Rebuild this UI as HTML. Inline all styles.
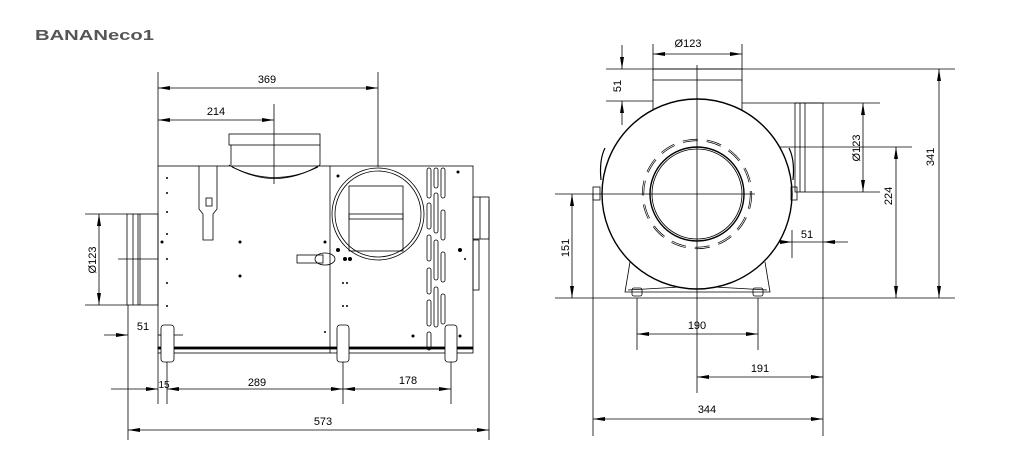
<!DOCTYPE html>
<html><head><meta charset="utf-8"><style>
html,body{margin:0;padding:0;background:#fff;}
svg{display:block;font-family:"Liberation Sans","DejaVu Sans",sans-serif;}
</style></head><body>
<svg width="1014" height="461" viewBox="0 0 1014 461" xmlns="http://www.w3.org/2000/svg">
<defs>
<marker id="a" viewBox="0 0 12 4" refX="12" refY="2" markerWidth="12" markerHeight="4" markerUnits="userSpaceOnUse" orient="auto-start-reverse"><path d="M0,0 L12,2 L0,4 Z" fill="#000"/></marker>
</defs>
<text x="35" y="40" font-size="15" font-weight="bold" fill="#555" textLength="119" lengthAdjust="spacingAndGlyphs">BANANeco1</text>

<g stroke="#000" stroke-width="0.8" fill="none">
<!-- LEFT VIEW -->
<line x1="158" y1="72" x2="158" y2="166"/>
<line x1="378" y1="72" x2="378" y2="167"/>
<line x1="274" y1="104" x2="274" y2="184"/>
<line x1="158" y1="353" x2="158" y2="404"/>
<line x1="167" y1="362" x2="167" y2="404"/>
<line x1="343" y1="362" x2="343" y2="404"/>
<line x1="451" y1="362" x2="451" y2="404"/>
<line x1="128" y1="305" x2="128" y2="440"/>
<line x1="489" y1="200" x2="489" y2="440"/>
<line x1="85" y1="214" x2="127" y2="214"/>
<line x1="85" y1="305" x2="127" y2="305"/>
<line x1="118" y1="259" x2="158" y2="259"/>
<line x1="158" y1="88" x2="378" y2="88" marker-start="url(#a)" marker-end="url(#a)"/>
<line x1="158" y1="120" x2="274" y2="120" marker-start="url(#a)" marker-end="url(#a)"/>
<line x1="99" y1="214" x2="99" y2="305" marker-start="url(#a)" marker-end="url(#a)"/>
<line x1="104" y1="335" x2="128" y2="335" marker-end="url(#a)"/>
<line x1="170" y1="335" x2="183" y2="335"/>
<line x1="158" y1="335" x2="170" y2="335" marker-start="url(#a)"/>
<line x1="111" y1="389" x2="158" y2="389" marker-end="url(#a)"/>
<line x1="167" y1="389" x2="343" y2="389" marker-start="url(#a)" marker-end="url(#a)"/>
<line x1="343" y1="389" x2="451" y2="389" marker-start="url(#a)" marker-end="url(#a)"/>
<line x1="128" y1="430" x2="489" y2="430" marker-start="url(#a)" marker-end="url(#a)"/>

<rect x="229" y="134" width="91" height="11"/>
<line x1="231" y1="145" x2="231" y2="165"/><line x1="320" y1="145" x2="320" y2="165"/>
<path d="M229,165 Q275,192 320,165"/>
<path d="M232,167 Q275,188 318,167"/>
<rect x="158" y="166" width="315" height="187"/>
<line x1="330" y1="166" x2="330" y2="353"/>
<rect x="158" y="347" width="315" height="2" fill="#000"/>
<rect x="127" y="214" width="31" height="91"/>
<line x1="133" y1="214" x2="133" y2="305"/>
<line x1="138" y1="214" x2="138" y2="305"/>
<line x1="140" y1="214" x2="140" y2="305"/>
<rect x="473" y="197" width="16" height="42"/>
<line x1="480" y1="197" x2="480" y2="239"/>
<rect x="473" y="240" width="6" height="50"/>
<path d="M199,166 V209 L203,214 V240 H213 V214 L217,209 V166"/>
<rect x="206" y="198" width="6" height="8"/>
<circle cx="378" cy="214" r="46"/>
<circle cx="378" cy="214" r="43"/>
<rect x="349" y="186" width="54" height="65"/>
<rect x="349" y="214" width="54" height="5"/>
<rect x="297" y="255" width="26" height="8"/>
<ellipse cx="325" cy="259" rx="10" ry="6"/>
<g stroke-width="0.8">
<rect x="427" y="168" width="4" height="30" rx="2"/><rect x="427" y="203" width="4" height="26" rx="2"/>
<rect x="427" y="235" width="4" height="26" rx="2"/><rect x="427" y="268" width="4" height="26" rx="2"/>
<rect x="427" y="300" width="4" height="26" rx="2"/><rect x="427" y="332" width="4" height="18" rx="2"/>
<rect x="434" y="168" width="4" height="20" rx="2"/><rect x="434" y="193" width="4" height="40" rx="2"/>
<rect x="434" y="240" width="4" height="40" rx="2"/><rect x="434" y="287" width="4" height="40" rx="2"/>
<rect x="441" y="168" width="4" height="30" rx="2"/><rect x="441" y="210" width="4" height="30" rx="2"/>
<rect x="441" y="252" width="4" height="30" rx="2"/><rect x="441" y="294" width="4" height="30" rx="2"/>
</g>
<rect x="161" y="325" width="13" height="37" rx="3" fill="#fff"/>
<rect x="337" y="325" width="12" height="37" rx="3" fill="#fff"/>
<rect x="445" y="325" width="12" height="37" rx="3" fill="#fff"/>
</g>
<g fill="#000">
<circle cx="167" cy="178" r="1"/><circle cx="167" cy="193" r="1"/><circle cx="167" cy="212" r="1"/><circle cx="167" cy="234" r="1"/><circle cx="167" cy="259" r="1"/><circle cx="167" cy="283" r="1"/><circle cx="167" cy="306" r="1"/>
<circle cx="162" cy="242" r="1.5"/><circle cx="240" cy="242" r="1.5"/><circle cx="240" cy="276" r="1.5"/><circle cx="325" cy="242" r="1.5"/>
<circle cx="338" cy="176" r="1.5"/><circle cx="338" cy="250" r="2"/><circle cx="345" cy="259" r="2"/><circle cx="350" cy="259" r="2"/>
<circle cx="458" cy="172" r="1.5"/><circle cx="460" cy="250" r="2"/><circle cx="465" cy="259" r="1"/><circle cx="460" cy="336" r="1.5"/><circle cx="413" cy="336" r="1.5"/>
<circle cx="343" cy="283" r="1"/><circle cx="347" cy="283" r="1"/><circle cx="343" cy="306" r="1"/><circle cx="347" cy="306" r="1"/><circle cx="325" cy="332" r="1"/>
</g>
<g font-size="11" fill="#000" text-anchor="middle">
<text x="267" y="83">369</text>
<text x="216" y="115">214</text>
<text x="143" y="330">51</text>
<text x="164" y="388" font-size="10">15</text>
<text x="257" y="386">289</text>
<text x="408" y="384">178</text>
<text x="323" y="425">573</text>
<text transform="translate(96,260) rotate(-90)">Ø123</text>
</g>

<!-- RIGHT VIEW -->
<g stroke="#000" stroke-width="0.8" fill="none">
<line x1="653" y1="44" x2="653" y2="69"/><line x1="742" y1="44" x2="742" y2="69"/>
<line x1="606" y1="69" x2="955" y2="69"/>
<line x1="606" y1="101" x2="653" y2="101"/>
<line x1="742" y1="103" x2="880" y2="103"/>
<line x1="823" y1="192" x2="880" y2="192"/>
<line x1="780" y1="147" x2="912" y2="147"/>
<line x1="555" y1="298" x2="955" y2="298"/>
<line x1="593" y1="194" x2="593" y2="436"/>
<line x1="823" y1="192" x2="823" y2="436"/>
<line x1="637" y1="298" x2="637" y2="350"/>
<line x1="758" y1="298" x2="758" y2="350"/>
<line x1="792" y1="230" x2="792" y2="258"/>
<line x1="653" y1="54" x2="742" y2="54" marker-start="url(#a)" marker-end="url(#a)"/>
<line x1="622" y1="45" x2="622" y2="69" marker-end="url(#a)"/>
<line x1="622" y1="101" x2="622" y2="125" marker-start="url(#a)"/>
<line x1="863" y1="103" x2="863" y2="192" marker-start="url(#a)" marker-end="url(#a)"/>
<line x1="896" y1="147" x2="896" y2="298" marker-start="url(#a)" marker-end="url(#a)"/>
<line x1="939" y1="69" x2="939" y2="298" marker-start="url(#a)" marker-end="url(#a)"/>
<line x1="572" y1="194" x2="572" y2="298" marker-start="url(#a)" marker-end="url(#a)"/>
<line x1="767" y1="242" x2="792" y2="242" marker-end="url(#a)"/>
<line x1="848" y1="242" x2="823" y2="242" marker-end="url(#a)"/>
<line x1="792" y1="242" x2="823" y2="242"/>
<line x1="637" y1="334" x2="758" y2="334" marker-start="url(#a)" marker-end="url(#a)"/>
<line x1="697" y1="377" x2="823" y2="377" marker-start="url(#a)" marker-end="url(#a)"/>
<line x1="593" y1="419" x2="823" y2="419" marker-start="url(#a)" marker-end="url(#a)"/>
<rect x="653" y="69" width="89" height="11"/>
<line x1="653" y1="80" x2="653" y2="111"/><line x1="742" y1="80" x2="742" y2="111"/>
<rect x="795" y="103" width="28" height="89"/>
<line x1="800" y1="103" x2="800" y2="192"/><line x1="805" y1="103" x2="805" y2="192"/>
<path d="M630,262 L625,292 H770 L765,262"/>
<path d="M628,290 L697,286 L767,290"/>
<rect x="632" y="288" width="10" height="8" rx="2"/>
<rect x="753" y="288" width="10" height="8" rx="2"/>
<circle cx="697" cy="194" r="95" fill="#fff" stroke-width="1.4"/>
<circle cx="697" cy="194" r="47" stroke-width="1.4"/>
<circle cx="697" cy="194" r="45"/>
<circle cx="697" cy="194" r="54" stroke-width="2.2" stroke-dasharray="15 9"/>
<circle cx="697" cy="194" r="54" stroke="#fff" stroke-width="0.8" stroke-dasharray="15 9"/>
<rect x="593" y="187" width="7" height="13"/>
<rect x="791" y="187" width="6" height="13"/>
<path d="M605,148 Q599,160 601,180" stroke-width="1.2"/><path d="M789,148 Q795,160 793,180" stroke-width="1.2"/>
</g>
<g stroke="#000" stroke-width="0.8">
<line x1="697" y1="65" x2="697" y2="393"/>
<line x1="555" y1="194" x2="755" y2="194"/>
</g>
<g font-size="11" fill="#000" text-anchor="middle">
<text x="688" y="47">Ø123</text>
<text transform="translate(621,86) rotate(-90)">51</text>
<text transform="translate(860,148) rotate(-90)">Ø123</text>
<text transform="translate(892,196) rotate(-90)">224</text>
<text transform="translate(934,157) rotate(-90)">341</text>
<text transform="translate(569,248) rotate(-90)">151</text>
<text x="807" y="238">51</text>
<text x="697" y="329">190</text>
<text x="760" y="372">191</text>
<text x="707" y="413">344</text>
</g>
</svg>
</body></html>
